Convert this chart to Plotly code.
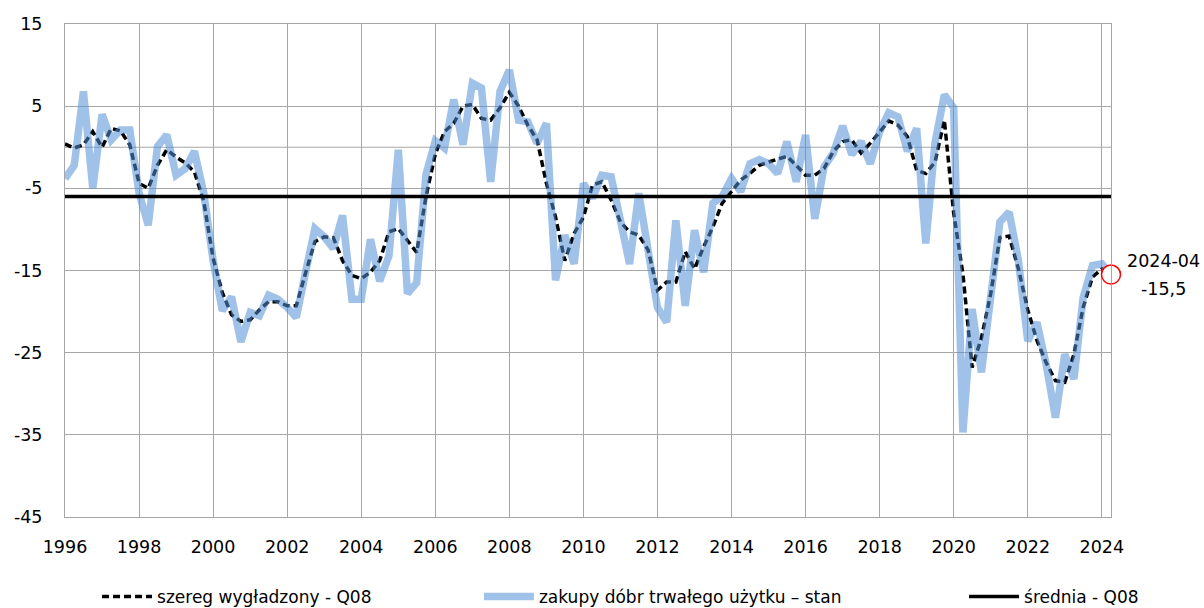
import pandas as pd
import plotly.graph_objects as go

# Quarterly observations, Jan 1996 .. Apr 2024
blue_values = [
    -3.8, -2.2, 6.8, -5.0,      # 1996
    4.0, 0.9, 2.1, 2.1,         # 1997
    -5.6, -9.5, 0.1, 1.5,       # 1998
    -3.4, -2.6, -0.5, -5.6,     # 1999
    -13.8, -19.9, -18.2, -23.7, # 2000
    -20.1, -20.5, -18.0, -18.5, # 2001
    -19.5, -20.7, -15.2, -9.9,  # 2002
    -10.9, -12.3, -8.3, -18.5,  # 2003
    -18.5, -11.2, -16.3, -13.2, # 2004
    -0.3, -17.8, -16.5, -3.3,   # 2005
    0.8, -0.1, 5.8, 0.3,        # 2006
    7.8, 7.2, -4.2, 6.8,        # 2007
    9.4, 3.3, 3.1, 0.5,         # 2008
    2.9, -16.2, -10.7, -14.2,   # 2009
    -4.4, -6.2, -3.4, -3.6,     # 2010
    -8.9, -14.2, -5.6, -12.1,   # 2011
    -19.5, -21.3, -8.9, -19.3,  # 2012
    -10.1, -15.2, -6.8, -6.0,   # 2013
    -3.8, -5.4, -2.0, -1.5,     # 2014
    -2.0, -3.2, 0.7, -4.2,      # 2015
    1.5, -8.7, -2.4, -0.7,      # 2016
    2.6, -0.9, 0.7, -2.0,       # 2017
    1.9, 4.2, 3.7, -0.5,        # 2018
    2.3, -11.7, 0.5, 6.4,       # 2019
    4.8, -34.7, -19.7, -27.4,   # 2020
    -17.9, -9.1, -7.9, -13.8,   # 2021
    -23.6, -21.3, -26.4, -32.9, # 2022
    -25.2, -28.2, -18.3, -14.4, # 2023
    -14.2, -15.5,               # 2024
]

smoothed_values = [
    0.4, -0.1, 0.3, 1.9,        # 1996
    0.0, 2.3, 2.0, 0.3,         # 1997
    -4.4, -5.0, -2.2, -0.3,     # 1998
    -1.2, -1.9, -3.0, -6.6,     # 1999
    -13.5, -17.7, -20.4, -21.2, # 2000
    -21.0, -19.8, -18.8, -18.8, # 2001
    -19.3, -19.3, -15.3, -11.5, # 2002
    -10.9, -11.0, -13.8, -15.6, # 2003
    -16.0, -15.2, -13.8, -10.3, # 2004
    -9.9, -11.3, -12.8, -6.0,   # 2005
    -0.8, 1.9, 2.9, 5.0,        # 2006
    5.2, 3.5, 3.3, 4.8,         # 2007
    6.7, 5.0, 2.7, 0.9,         # 2008
    -4.4, -8.5, -13.8, -10.5,   # 2009
    -8.5, -4.6, -4.2, -6.4,     # 2010
    -9.1, -10.3, -10.7, -12.5,  # 2011
    -17.4, -16.4, -16.4, -12.7, # 2012
    -14.8, -12.1, -9.7, -6.8,   # 2013
    -5.4, -4.0, -3.2, -2.2,     # 2014
    -1.8, -1.5, -1.1, -2.2,     # 2015
    -3.4, -3.4, -2.6, -0.5,     # 2016
    0.7, 0.9, -0.7, 0.5,        # 2017
    1.9, 3.2, 2.7, 1.3,         # 2018
    -2.8, -3.2, -1.8, 3.3,      # 2019
    -8.0, -15.4, -26.8, -23.2,  # 2020
    -17.8, -11.0, -10.8, -14.8, # 2021
    -19.8, -23.5, -26.2, -28.4, # 2022
    -28.6, -25.2, -19.5, -15.8, # 2023
    -14.8, -15.3,               # 2024
]

mean_value = -6.0
last_label = "2024-04"
last_value_text = "-15,5"

y_ticks = [15, 5, -5, -15, -25, -35, -45]
y_tick_labels = ["15", "5", "-5", "-15", "-25", "-35", "-45"]

names = ["szereg wygładzony - Q08",
         "zakupy dóbr trwałego użytku – stan",
         "średnia - Q08"]

dates = pd.date_range("1996-01-01", periods=len(blue_values), freq="QS")

FONT = "DejaVu Sans"
GRID = "#a6a6a6"

fig = go.Figure()

fig.add_trace(go.Scatter(
    x=dates, y=smoothed_values, mode="lines", name=names[0],
    line=dict(color="black", width=3.5, dash="7px,4px"),
    legend="legend",
))
fig.add_trace(go.Scatter(
    x=dates, y=blue_values, mode="lines", name=names[1],
    line=dict(color="rgba(82,144,213,0.55)", width=7.5),
    legend="legend2",
))
fig.add_trace(go.Scatter(
    x=[dates[0], dates[-1]], y=[mean_value, mean_value], mode="lines",
    name=names[2], line=dict(color="black", width=3.5),
    legend="legend3",
))
fig.add_trace(go.Scatter(
    x=[dates[-1]], y=[blue_values[-1]], mode="markers", showlegend=False,
    cliponaxis=False,
    marker=dict(symbol="circle", size=19, color="white",
                line=dict(color="red", width=1.5)),
))

fig.add_shape(type="line", xref="paper", x0=0, x1=1, yref="y", y0=0, y1=0,
              line=dict(color=GRID, width=1), layer="below")

fig.add_annotation(x=dates[-1], y=blue_values[-1], text=last_label,
                   showarrow=False, xanchor="center", yanchor="middle",
                   xshift=52, yshift=14, font=dict(family=FONT, size=17.5, color="black"))
fig.add_annotation(x=dates[-1], y=blue_values[-1], text=last_value_text,
                   showarrow=False, xanchor="center", yanchor="middle",
                   xshift=52, yshift=-14, font=dict(family=FONT, size=17.5, color="black"))

legend_common = dict(orientation="h", xref="container", yref="container",
                     yanchor="middle", y=0.018, xanchor="left",
                     font=dict(family=FONT, size=17, color="black"),
                     itemwidth=50, bgcolor="rgba(0,0,0,0)")

fig.update_layout(
    width=1204, height=608,
    margin=dict(l=65, r=93, t=24, b=91, autoexpand=False),
    paper_bgcolor="white", plot_bgcolor="white",
    font=dict(family=FONT, size=17.5, color="black"),
    showlegend=True,
    legend=dict(x=0.0806, **legend_common),
    legend2=dict(x=0.3978, **legend_common),
    legend3=dict(x=0.8007, **legend_common),
    xaxis=dict(
        type="date", range=[dates[0], dates[-1]],
        tick0="1996-01-01", dtick="M24", tickformat="%Y",
        showgrid=True, gridcolor=GRID, gridwidth=1,
        showline=True, linecolor=GRID, linewidth=1, mirror=True,
        ticks="", ticklabelstandoff=14, zeroline=False, automargin=False,
    ),
    yaxis=dict(
        range=[-45, 15], tickvals=y_ticks, ticktext=y_tick_labels,
        showgrid=True, gridcolor=GRID, gridwidth=1,
        showline=True, linecolor=GRID, linewidth=1, mirror=True,
        ticks="", ticklabelstandoff=18, zeroline=False, automargin=False,
    ),
)

fig.write_html("out.html",
               config={"displayModeBar": False},
               post_script="document.body.style.margin='0px';document.body.style.overflow='hidden';")
